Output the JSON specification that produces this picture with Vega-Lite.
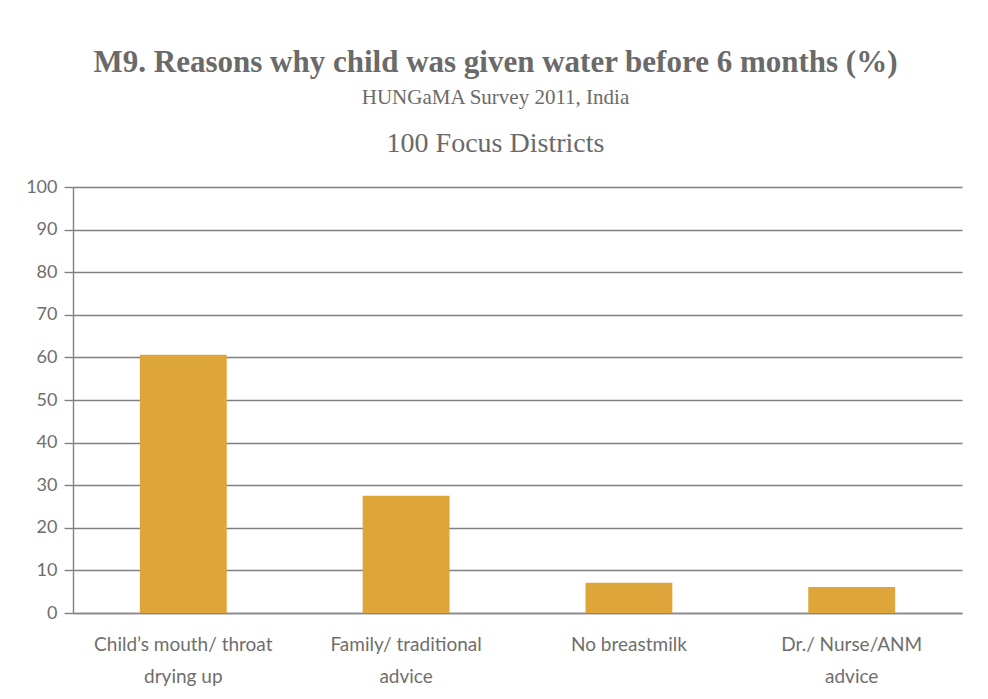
{
  "$schema": "https://vega.github.io/schema/vega-lite/v6.json",
  "width": 889,
  "height": 426,
  "autosize": "none",
  "padding": {"left": 73, "top": 187, "right": 26, "bottom": 86},
  "background": "white",
  "title": {
    "text": "M9. Reasons why child was given water before 6 months (%)",
    "subtitle": "HUNGaMA Survey 2011, India",
    "font": "Liberation Serif",
    "fontSize": 31,
    "fontWeight": "bold",
    "color": "#6a6a6a",
    "subtitleFont": "Liberation Serif",
    "subtitleFontSize": 21,
    "subtitleColor": "#6a6a6a",
    "subtitlePadding": 8,
    "anchor": "middle",
    "offset": 20,
    "dx": -22
  },
  "data": {
    "values": [
      {"reason": "Child’s mouth/ throat drying up", "percent": 60.6},
      {"reason": "Family/ traditional advice", "percent": 27.5},
      {"reason": "No breastmilk", "percent": 7.1},
      {"reason": "Dr./ Nurse/ANM advice", "percent": 6.1}
    ]
  },
  "layer": [
    {
      "mark": {"type": "bar", "color": "#DEA63A"},
      "encoding": {
        "x": {
          "field": "reason",
          "type": "nominal",
          "sort": null,
          "scale": {"paddingInner": 0.61, "paddingOuter": 0.3},
          "axis": {
            "orient": "bottom",
            "title": null,
            "labelAngle": 0,
            "ticks": false,
            "grid": false,
            "domain": true,
            "domainColor": "#888888",
            "domainWidth": 1.5,
            "labelFont": "Lato",
            "labelFontSize": 19,
            "labelColor": "#6e6e6e",
            "labelPadding": 22,
            "labelLineHeight": 32,
            "labelLimit": 300,
            "labelExpr": "datum.value == 'Child’s mouth/ throat drying up' ? ['Child’s mouth/ throat', 'drying up'] : datum.value == 'Family/ traditional advice' ? ['Family/ traditional', 'advice'] : datum.value == 'Dr./ Nurse/ANM advice' ? ['Dr./ Nurse/ANM', 'advice'] : datum.value"
          }
        },
        "y": {
          "field": "percent",
          "type": "quantitative",
          "scale": {"domain": [0, 100], "nice": false},
          "axis": {
            "title": null,
            "values": [0, 10, 20, 30, 40, 50, 60, 70, 80, 90, 100],
            "grid": true,
            "gridColor": "#808080",
            "gridWidth": 1.4,
            "domain": true,
            "domainColor": "#808080",
            "domainWidth": 1.4,
            "ticks": true,
            "tickSize": 9,
            "tickColor": "#808080",
            "tickWidth": 1.4,
            "labelFont": "Lato",
            "labelFontSize": 18,
            "labelColor": "#6e6e6e",
            "labelPadding": 7
          }
        }
      }
    },
    {
      "mark": {"type": "bar", "opacity": 0},
      "encoding": {
        "x": {
          "field": "reason",
          "type": "nominal",
          "sort": null,
          "axis": {
            "orient": "top",
            "labels": false,
            "ticks": false,
            "domain": false,
            "grid": false,
            "title": "100 Focus Districts",
            "titleFont": "Liberation Serif",
            "titleFontSize": 28,
            "titleFontWeight": "normal",
            "titleColor": "#6a6a6a",
            "titlePadding": 30,
            "titleX": 422,
            "titleAlign": "center"
          }
        }
      }
    }
  ],
  "resolve": {"axis": {"x": "independent"}},
  "config": {"view": {"stroke": null}}
}
